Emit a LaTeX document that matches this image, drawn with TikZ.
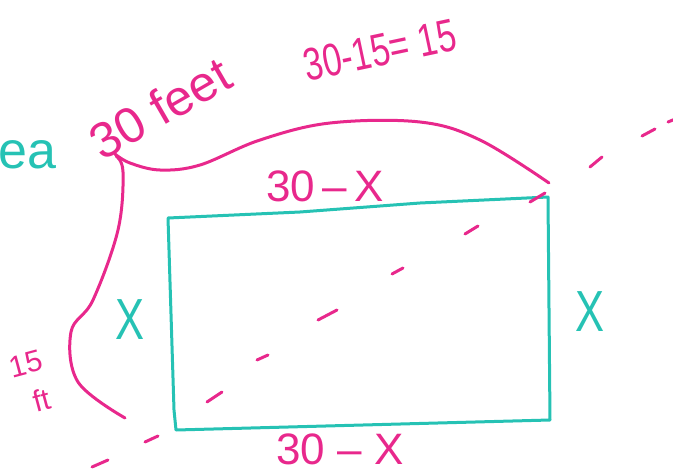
\documentclass[tikz,border=0pt]{standalone}
\usepackage{fontspec}
\setmainfont{Liberation Sans}
\definecolor{teal1}{RGB}{38,194,180}
\definecolor{pink1}{RGB}{232,40,140}
\tikzset{
  marker/.style={line width=3pt, line cap=round, line join=round},
  tealpen/.style={marker, draw=teal1},
  pinkpen/.style={marker, draw=pink1},
  pinktext/.style={text=pink1, inner sep=0pt},
  tealtext/.style={text=teal1, inner sep=0pt},
}
\begin{document}
\begin{tikzpicture}[x=1pt, y=-1pt]
\useasboundingbox (0,0) rectangle (673,474);
% rectangle
\draw[tealpen] (168,218) -- (300,212) -- (420,203) -- (548,197) -- (550,420) -- (176,430) -- (174,410) -- cycle;
% brace
\draw[pinkpen] plot[smooth, tension=0.6] coordinates {(115,154) (130,163) (160,170) (200,165) (260,140) (330,123) (420,122) (480,140) (549,183)};
\draw[pinkpen] plot[smooth, tension=0.6] coordinates {(116,156) (123,172) (118,230) (93,300) (71,332) (78,382) (125,418)};
% dashed diagonal
\foreach \a/\b/\c/\d in {92/467/108/460, 145/442/158/436, 207/402/222/392, 257/360/268/355, 318/320/337/310, 392/274/403/268, 465/234/478/226, 530/202/545/193, 590/167/602/157, 642/136/655/129, 668/122/680/117}
  \draw[pinkpen] (\a,\b) -- (\c,\d);
% texts
\node[pinktext, font=\fontsize{44}{44}\selectfont] (topx) at (325,186) {30\,–\,X};
\node[pinktext, font=\fontsize{44}{44}\selectfont] (botx) at (340,449) {30 – X};
\node[tealtext, font=\fontsize{58}{58}\selectfont, xscale=0.75] (leftx) at (130,320) {X};
\node[tealtext, font=\fontsize{58}{58}\selectfont, xscale=0.75] (rightx) at (590,312) {X};
\node[pinktext, font=\fontsize{50}{50}\selectfont, rotate=30] (feet) at (160,108) {30 feet};
\node[pinktext, font=\fontsize{34}{34}\selectfont, rotate=12, yscale=1.35] (calc) at (380,50) {30-15= 15};
\node[pinktext, font=\fontsize{30}{30}\selectfont, rotate=15] (fifteen) at (26,364) {15};
\node[pinktext, font=\fontsize{30}{30}\selectfont, rotate=15] (ft) at (42,400) {ft};
\node[tealtext, font=\fontsize{52}{52}\selectfont, anchor=base east] (ea) at (57,168) {ea};
\end{tikzpicture}
\end{document}
